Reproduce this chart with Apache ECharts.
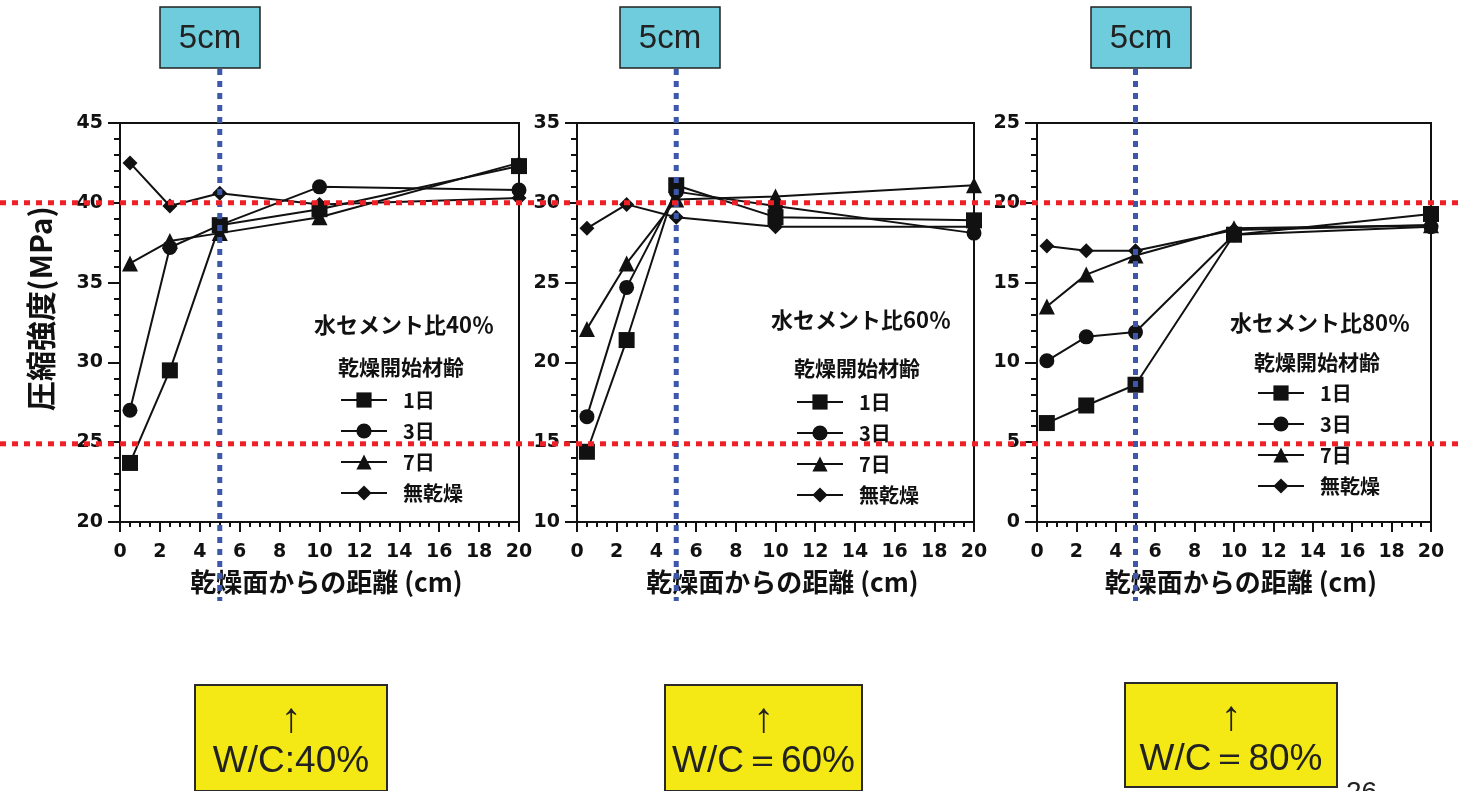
<!DOCTYPE html>
<html>
<head>
<meta charset="utf-8">
<script src="https://cdn.jsdelivr.net/npm/echarts@6/dist/echarts.min.js"></script>
<style>
  html, body { margin: 0; padding: 0; background: #ffffff; }
  #chart { width: 1462px; height: 791px; }
</style>
</head>
<body>
<div id="chart"></div>
<script>
// Distance from the drying surface (cm)
const distances = [0.5, 2.5, 5, 10, 20];
const xTicks = { min: 0, max: 20, interval: 2 };

// Drying start age (legend entries) and their marker shapes
const ageNames = ['1日', '3日', '7日', '無乾燥'];
const ageSymbols = ['rect', 'circle', 'triangle', 'diamond'];
const ageSymbolSizes = [16, 15, 16, 15];

// Compressive strength (MPa), water-cement ratio 40 %
const wc40Day1 = [23.7, 29.5, 38.6, 39.6, 42.3];
const wc40Day3 = [27.0, 37.2, 38.6, 41.0, 40.8];
const wc40Day7 = [36.2, 37.6, 38.1, 39.1, 42.5];
const wc40NoDry = [42.5, 39.8, 40.6, 39.9, 40.3];

// Compressive strength (MPa), water-cement ratio 60 %
const wc60Day1 = [14.4, 21.4, 31.1, 29.1, 28.9];
const wc60Day3 = [16.6, 24.7, 30.7, 29.8, 28.1];
const wc60Day7 = [22.1, 26.2, 30.2, 30.4, 31.1];
const wc60NoDry = [28.4, 29.9, 29.1, 28.5, 28.5];

// Compressive strength (MPa), water-cement ratio 80 %
const wc80Day1 = [6.2, 7.3, 8.6, 18.0, 19.3];
const wc80Day3 = [10.1, 11.6, 11.9, 18.0, 18.5];
const wc80Day7 = [13.5, 15.5, 16.7, 18.4, 18.6];
const wc80NoDry = [17.3, 17.0, 17.0, 18.3, 18.6];

// Y-axis ranges for the three panels
const yRanges = [
  { min: 20, max: 45, interval: 5 },
  { min: 10, max: 35, interval: 5 },
  { min: 0, max: 25, interval: 5 }
];

// Panel captions
const panelTitles = ['水セメント比40％', '水セメント比60％', '水セメント比80％'];
const legendTitle = '乾燥開始材齢';
const xAxisName = '乾燥面からの距離 (cm)';
const yAxisName = '圧縮強度(MPa)';
const depthTag = '5cm';
const wcTags = ['W/C:40%', 'W/C＝60%', 'W/C＝80%'];
const pageNumber = '26';

// Reference levels drawn across the page (values on the first panel's axis)
const refDepth = 5;
const refLevels = [40, 24.9];

const panelSeries = [
  [wc40Day1, wc40Day3, wc40Day7, wc40NoDry],
  [wc60Day1, wc60Day3, wc60Day7, wc60NoDry],
  [wc80Day1, wc80Day3, wc80Day7, wc80NoDry]
];

// ---- layout ----
const grids = [
  { left: 120, top: 123, width: 399, height: 399 },
  { left: 577, top: 123, width: 397, height: 399 },
  { left: 1037, top: 123, width: 394, height: 399 }
];
const legendPos = [
  { left: 340, top: 390 },
  { left: 796, top: 392 },
  { left: 1257, top: 383 }
];
const titlePos = [
  { x: 404, y: 325 }, { x: 861, y: 320 }, { x: 1320, y: 323 }
];
const subTitlePos = [
  { x: 401, y: 367 }, { x: 857, y: 368 }, { x: 1317, y: 362 }
];
const tagBoxes = [
  { left: 160, top: 7, width: 100, height: 61 },
  { left: 620, top: 7, width: 100, height: 61 },
  { left: 1091, top: 7, width: 100, height: 61 }
];
const wcBoxes = [
  { left: 195, top: 685, width: 192, height: 106 },
  { left: 665, top: 685, width: 197, height: 106 },
  { left: 1125, top: 683, width: 212, height: 104 }
];

const INK = '#111111';
const CJK = '"Noto Sans CJK JP", "Noto Sans CJK SC", sans-serif';
const NUM = '"DejaVu Sans", sans-serif';
const SANS = '"Liberation Sans", Arial, sans-serif';

const chart = echarts.init(document.getElementById('chart'), null, { renderer: 'canvas' });

const xAxes = grids.map((g, i) => ({
  type: 'value',
  gridIndex: i,
  min: xTicks.min,
  max: xTicks.max,
  interval: xTicks.interval,
  name: xAxisName,
  nameLocation: 'middle',
  nameGap: 47,
  nameTextStyle: { fontFamily: CJK, fontWeight: 'bold', fontSize: 26, color: INK, padding: [0, 0, 0, 14] },
  axisLine: { show: true, lineStyle: { color: INK, width: 2 } },
  axisTick: { show: true, inside: false, length: 10, lineStyle: { color: INK, width: 2 } },
  minorTick: { show: true, splitNumber: 4, length: 5, lineStyle: { color: INK, width: 2 } },
  axisLabel: { margin: 21, fontFamily: NUM, fontWeight: 'bold', fontSize: 19, color: INK },
  splitLine: { show: false },
  minorSplitLine: { show: false }
}));

const yAxes = grids.map((g, i) => ({
  type: 'value',
  gridIndex: i,
  min: yRanges[i].min,
  max: yRanges[i].max,
  interval: yRanges[i].interval,
  name: i === 0 ? yAxisName : '',
  nameLocation: 'middle',
  nameRotate: 90,
  nameGap: 64,
  nameTextStyle: { fontFamily: CJK, fontWeight: 'bold', fontSize: 30, color: INK, padding: [0, 0, 0, 28] },
  axisLine: { show: true, onZero: false, lineStyle: { color: INK, width: 2 } },
  axisTick: { show: true, inside: false, length: 12, lineStyle: { color: INK, width: 2 } },
  minorTick: { show: true, splitNumber: 5, length: 6, lineStyle: { color: INK, width: 2 } },
  axisLabel: { margin: 17, fontFamily: NUM, fontWeight: 'bold', fontSize: 19, color: INK },
  splitLine: { show: false },
  minorSplitLine: { show: false }
}));

const series = [];
panelSeries.forEach((group, p) => {
  group.forEach((values, k) => {
    series.push({
      type: 'line',
      name: ageNames[k],
      xAxisIndex: p,
      yAxisIndex: p,
      data: distances.map((d, j) => [d, values[j]]),
      symbol: ageSymbols[k],
      symbolSize: ageSymbolSizes[k],
      showAllSymbol: true,
      color: INK,
      itemStyle: { color: INK },
      lineStyle: { color: INK, width: 2 },
      z: 3 + (3 - k),
      animation: false
    });
  });
});

const legends = legendPos.map(pos => ({
  orient: 'vertical',
  left: pos.left,
  top: pos.top,
  padding: 0,
  itemWidth: 46,
  itemHeight: 19,
  itemGap: 11,
  selectedMode: false,
  data: ageNames,
  itemStyle: { color: INK },
  lineStyle: { color: INK, width: 2 },
  textStyle: { fontFamily: CJK, fontWeight: 'bold', fontSize: 20, color: INK, padding: [0, 0, 0, 11] }
}));

// Static captions, tag boxes and labels
const staticGraphics = [];
panelTitles.forEach((t, i) => {
  staticGraphics.push({
    type: 'text', x: titlePos[i].x, y: titlePos[i].y, z: 20,
    style: { text: t, fontFamily: CJK, fontWeight: 'bold', fontSize: 22, fill: INK, align: 'center', verticalAlign: 'middle' }
  });
  staticGraphics.push({
    type: 'text', x: subTitlePos[i].x, y: subTitlePos[i].y, z: 20,
    style: { text: legendTitle, fontFamily: CJK, fontWeight: 'bold', fontSize: 21, fill: INK, align: 'center', verticalAlign: 'middle' }
  });
});
tagBoxes.forEach(b => {
  staticGraphics.push({
    type: 'rect', z: 40,
    shape: { x: b.left, y: b.top, width: b.width, height: b.height },
    style: { fill: '#6fccdc', stroke: '#222222', lineWidth: 1.5 }
  });
  staticGraphics.push({
    type: 'text', z: 41, x: b.left + b.width / 2, y: b.top + b.height / 2 + 1,
    style: { text: depthTag, fontFamily: SANS, fontSize: 33, fill: '#222222', align: 'center', verticalAlign: 'middle' }
  });
});
wcBoxes.forEach((b, i) => {
  staticGraphics.push({
    type: 'rect', z: 40,
    shape: { x: b.left, y: b.top, width: b.width, height: b.height },
    style: { fill: '#f4e914', stroke: '#2a2a2a', lineWidth: 2 }
  });
  staticGraphics.push({
    type: 'text', z: 41, x: b.left + b.width / 2, y: b.top + 35,
    style: { text: '↑', fontFamily: SANS, fontSize: 42, fill: '#222222', align: 'center', verticalAlign: 'middle' }
  });
  staticGraphics.push({
    type: 'text', z: 41, x: b.left + b.width / 2, y: b.top + 77,
    style: { text: wcTags[i], fontFamily: SANS, fontSize: 37, fill: '#222222', align: 'center', verticalAlign: 'middle' }
  });
});
staticGraphics.push({
  type: 'text', z: 41, x: 1346, y: 779,
  style: { text: pageNumber, fontFamily: SANS, fontSize: 28, fill: '#222222', align: 'left', verticalAlign: 'top' }
});

chart.setOption({
  animation: false,
  backgroundColor: '#ffffff',
  grid: grids.map(g => Object.assign({ show: true, borderColor: INK, borderWidth: 2, backgroundColor: 'transparent' }, g)),
  xAxis: xAxes,
  yAxis: yAxes,
  legend: legends,
  series: series,
  graphic: staticGraphics
});

// Dotted guide lines placed through the axes' own scales
const guideGraphics = [];
grids.forEach((g, i) => {
  const x = chart.convertToPixel({ xAxisIndex: i }, refDepth);
  guideGraphics.push({
    type: 'line', z: 50,
    shape: { x1: x, y1: 69, x2: x, y2: 601 },
    style: { stroke: '#3d58aa', lineWidth: 5, lineDash: [6, 6] }
  });
});
refLevels.forEach(v => {
  const y = chart.convertToPixel({ yAxisIndex: 0 }, v);
  guideGraphics.push({
    type: 'line', z: 60,
    shape: { x1: 0, y1: y, x2: 1462, y2: y },
    style: { stroke: '#ee1f26', lineWidth: 5, lineDash: [6, 6] }
  });
});

chart.setOption({ graphic: staticGraphics.concat(guideGraphics) });
</script>
</body>
</html>
